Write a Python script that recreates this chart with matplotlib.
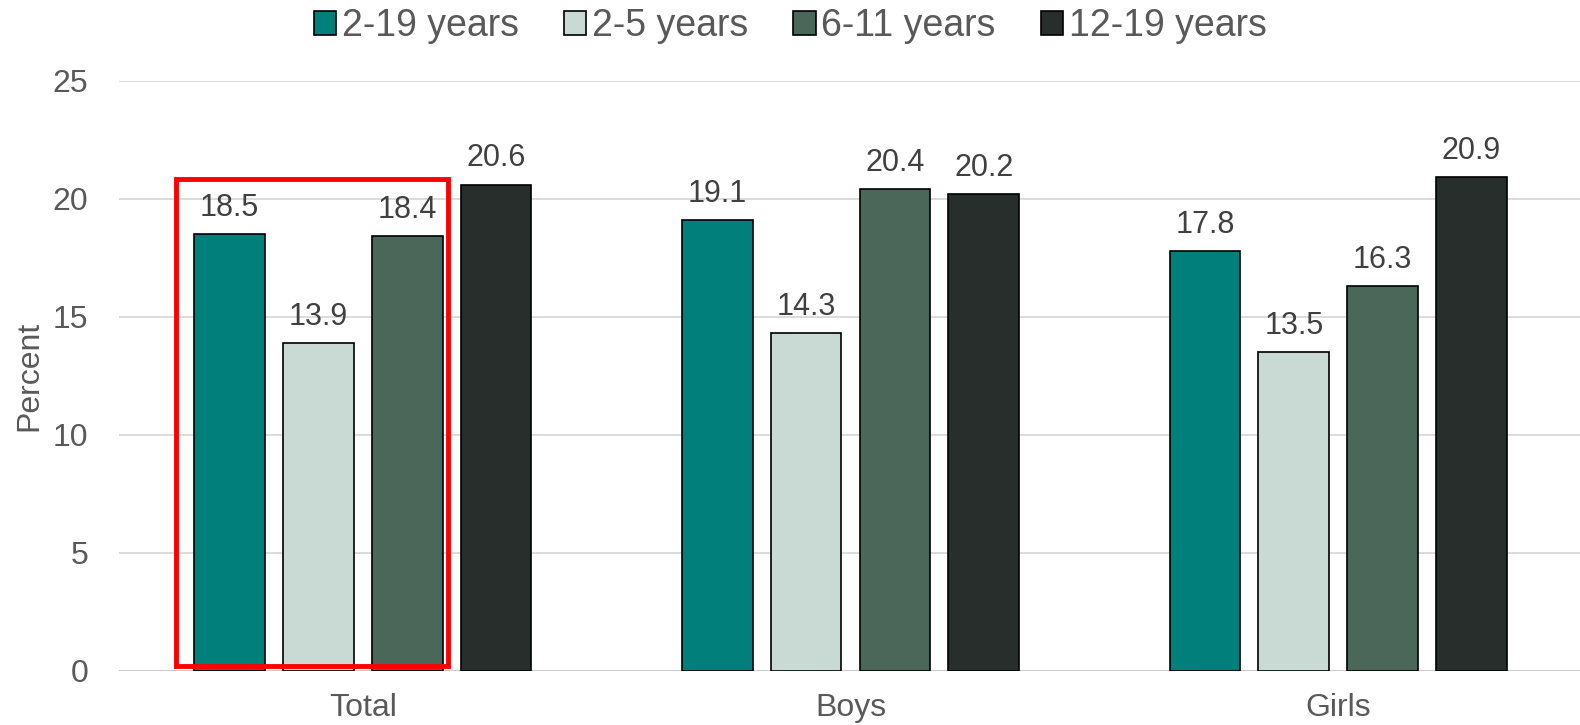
import numpy as np
import matplotlib.pyplot as plt
from matplotlib.patches import Rectangle

plt.rcParams['font.family'] = ['Liberation Sans', 'DejaVu Sans']

# data
groups = ["Total", "Boys", "Girls"]
series = ["2-19 years", "2-5 years", "6-11 years", "12-19 years"]
vals_2_19 = [18.5, 19.1, 17.8]
vals_2_5 = [13.9, 14.3, 13.5]
vals_6_11 = [18.4, 20.4, 16.3]
vals_12_19 = [20.6, 20.2, 20.9]
colors = ["#007F7B", "#C9D9D4", "#4A6759", "#282E2C"]
txt = "#595959"

fig = plt.figure(figsize=(15.8, 7.25), dpi=100)
ax = fig.add_axes([0.0753, 0.0745, 0.926, 0.8143])

x = np.arange(len(groups))
width = 0.145
offsets = [-0.273, -0.091, 0.091, 0.273]
all_vals = [vals_2_19, vals_2_5, vals_6_11, vals_12_19]

for vals, off, col, name in zip(all_vals, offsets, colors, series):
    bars = ax.bar(x + off, vals, width, color=col, edgecolor="black",
                  linewidth=1.2, label=name, zorder=3)
    for b, v in zip(bars, vals):
        ax.annotate(f"{v:.1f}", (b.get_x() + b.get_width() / 2, v),
                    xytext=(0, 8), textcoords="offset points",
                    ha="center", va="bottom", fontsize=22, color="#404040")

# red highlight box around Total
ax.add_patch(Rectangle((-0.3825, 0.21), 0.558, 20.62, fill=False,
                       edgecolor="red", linewidth=3.5, zorder=5,
                       clip_on=False))

ax.set_xlim(-0.5, 2.5)
ax.set_ylim(0, 25)
ax.set_yticks(range(0, 26, 5))
ax.set_xticks(x)
ax.set_xticklabels(groups)
ax.tick_params(axis="both", length=0, labelsize=23, colors=txt)
ax.tick_params(axis="y", pad=22)
ax.tick_params(axis="x", pad=16)
ax.grid(axis="y", color="#D9D9D9", linewidth=1.3, zorder=0)
ax.axhline(0, color="#C8C8C8", linewidth=2, zorder=2)
for s in ax.spines.values():
    s.set_visible(False)
ax.set_ylabel("Percent", fontsize=23, color=txt, labelpad=6)

leg = fig.legend(loc="upper center", bbox_to_anchor=(0.5, 1.035), ncol=4,
                 frameon=False, fontsize=27, handlelength=0.6,
                 handleheight=0.6, handletextpad=0.15, columnspacing=1.2,
                 labelcolor=txt)

fig.savefig("out.png", dpi=100)
